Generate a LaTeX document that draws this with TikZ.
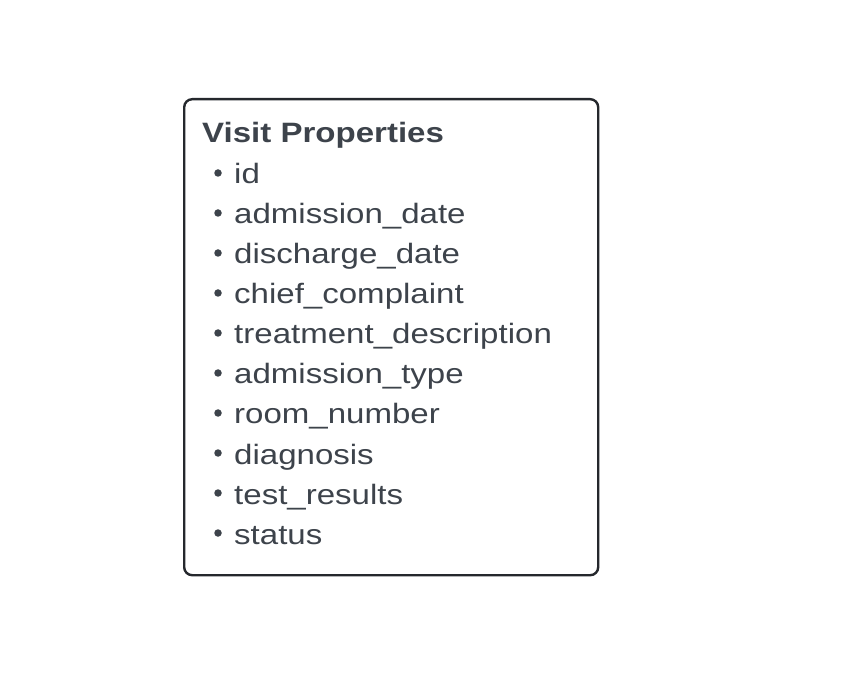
\documentclass[tikz,border=0pt]{standalone}
\usepackage{fontspec}
\setmainfont[FakeStretch=1.18]{Liberation Sans}
\usetikzlibrary{positioning}
\definecolor{txtgray}{HTML}{3D434B}
\definecolor{boxline}{HTML}{25282D}

\begin{document}
\begin{tikzpicture}[x=1pt,y=-1pt,
  prop/.style={anchor=base west,inner sep=0pt,text=txtgray,font=\fontsize{28}{32}\selectfont},
  dot/.style={circle,fill=txtgray,inner sep=0pt,minimum size=7.5pt}]
  \useasboundingbox (0,0) rectangle (854,692);
  \node[draw=boxline,line width=2.4pt,rounded corners=8pt,minimum width=414pt,minimum height=476pt,anchor=north west] (box) at (183,98) {};
  \node[prop,font=\bfseries\fontsize{28}{32}\selectfont] (title) at (202,143) {Visit Properties};
  % list of properties
  \foreach \name [count=\i from 0] in {id,admission\_date,discharge\_date,chief\_complaint,treatment\_description,admission\_type,room\_number,diagnosis,test\_results,status} {
    \node[prop] (p\i) at (234,184+40*\i) {\name};
    \node[dot] (d\i) at (218,173+40*\i) {};
  }
\end{tikzpicture}
\end{document}
